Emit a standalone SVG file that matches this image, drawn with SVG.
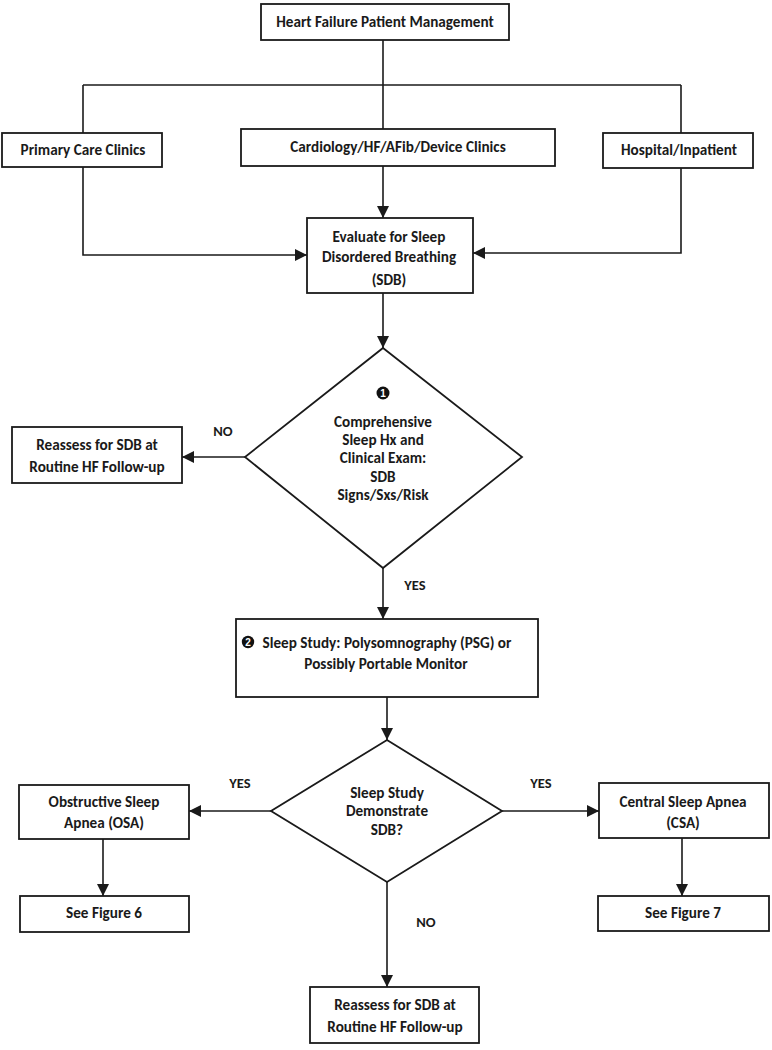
<svg xmlns="http://www.w3.org/2000/svg" width="772" height="1050" viewBox="0 0 772 1050">
<defs>
<style>
.box{fill:#fff;stroke:#1a1a1a;stroke-width:1.8}
.ln{fill:none;stroke:#1a1a1a;stroke-width:1.6}
.t{font-family:Carlito,"Liberation Sans Narrow",Lato,"Liberation Sans",sans-serif;font-weight:bold;font-size:15.2px;fill:#1a1a1a;text-anchor:middle;dominant-baseline:central}
.lbl{font-family:Carlito,"Liberation Sans Narrow",Lato,"Liberation Sans",sans-serif;font-weight:bold;font-size:14.5px;fill:#1a1a1a;text-anchor:middle;dominant-baseline:central}
.num{font-family:"Liberation Sans",Arial,sans-serif;font-weight:bold;font-size:10px;fill:#fff;text-anchor:middle;dominant-baseline:central}
</style>
<marker id="ah" markerUnits="userSpaceOnUse" markerWidth="12" markerHeight="12" viewBox="0 0 10 10" refX="10" refY="5" orient="auto">
<path d="M0,0 L10,5 L0,10 z" fill="#1a1a1a"/>
</marker>
</defs>
<rect width="772" height="1050" fill="#fff"/>

<g id="connectors">
<path class="ln" d="M383,40 V129"/>
<path class="ln" d="M83,85 H681"/>
<path class="ln" d="M83,85 V133"/>
<path class="ln" d="M681,85 V133"/>
<path class="ln" d="M383,166 V218" marker-end="url(#ah)"/>
<path class="ln" d="M83,167 V255 H307" marker-end="url(#ah)"/>
<path class="ln" d="M681,168 V253 H473" marker-end="url(#ah)"/>
<path class="ln" d="M383,293 V348" marker-end="url(#ah)"/>
<path class="ln" d="M245,457 H182" marker-end="url(#ah)"/>
<path class="ln" d="M383,568 V619" marker-end="url(#ah)"/>
<path class="ln" d="M387,697 V740" marker-end="url(#ah)"/>
<path class="ln" d="M271,811 H189" marker-end="url(#ah)"/>
<path class="ln" d="M502,811 H599" marker-end="url(#ah)"/>
<path class="ln" d="M103,839 V896" marker-end="url(#ah)"/>
<path class="ln" d="M682,838 V896" marker-end="url(#ah)"/>
<path class="ln" d="M387,882 V987" marker-end="url(#ah)"/>
<text class="lbl" x="223" y="431">NO</text>
<text class="lbl" x="415" y="585">YES</text>
<text class="lbl" x="240" y="783">YES</text>
<text class="lbl" x="541" y="783">YES</text>
<text class="lbl" x="426" y="922">NO</text>
</g>

<g id="n-hf">
<rect class="box" x="261" y="4" width="248" height="36"/>
<text class="t" x="385" y="22">Heart Failure Patient Management</text>
</g>

<g id="n-primary">
<rect class="box" x="2" y="133" width="160" height="34"/>
<text class="t" x="83" y="150">Primary Care Clinics</text>
</g>

<g id="n-cardio">
<rect class="box" x="241" y="129" width="314" height="37"/>
<text class="t" x="398" y="147">Cardiology/HF/AFib/Device Clinics</text>
</g>

<g id="n-hospital">
<rect class="box" x="603" y="133" width="150" height="35"/>
<text class="t" x="679" y="150">Hospital/Inpatient</text>
</g>

<g id="n-evaluate">
<rect class="box" x="307" y="218" width="166" height="75"/>
<text class="t" x="389" y="237">Evaluate for Sleep</text>
<text class="t" x="389" y="257">Disordered Breathing</text>
<text class="t" x="389" y="280">(SDB)</text>
</g>

<g id="n-diamond1">
<polygon class="box" points="383,348 522,457 383,568 245,457"/>
<circle cx="383" cy="393" r="6.5" fill="#111"/>
<text class="num" x="383" y="393.5">1</text>
<text class="t" x="383" y="422">Comprehensive</text>
<text class="t" x="383" y="440">Sleep Hx and</text>
<text class="t" x="383" y="458">Clinical Exam:</text>
<text class="t" x="383" y="477">SDB</text>
<text class="t" x="383" y="495">Signs/Sxs/Risk</text>
</g>

<g id="n-reassess1">
<rect class="box" x="12" y="427" width="170" height="56"/>
<text class="t" x="97" y="445">Reassess for SDB at</text>
<text class="t" x="97" y="467">Routine HF Follow-up</text>
</g>

<g id="n-sleepstudy">
<rect class="box" x="236" y="619" width="302" height="78"/>
<circle cx="248" cy="642" r="6.2" fill="#111"/>
<text class="num" x="248" y="642.5">2</text>
<text class="t" x="387" y="643">Sleep Study: Polysomnography (PSG) or</text>
<text class="t" x="386" y="664">Possibly Portable Monitor</text>
</g>

<g id="n-diamond2">
<polygon class="box" points="387,740 502,811 387,882 271,811"/>
<text class="t" x="387" y="793">Sleep Study</text>
<text class="t" x="387" y="811">Demonstrate</text>
<text class="t" x="387" y="830">SDB?</text>
</g>

<g id="n-osa">
<rect class="box" x="19" y="785" width="170" height="54"/>
<text class="t" x="104" y="802">Obstructive Sleep</text>
<text class="t" x="104" y="823">Apnea (OSA)</text>
</g>

<g id="n-csa">
<rect class="box" x="599" y="783" width="170" height="55"/>
<text class="t" x="683" y="802">Central Sleep Apnea</text>
<text class="t" x="683" y="823">(CSA)</text>
</g>

<g id="n-fig6">
<rect class="box" x="20" y="896" width="169" height="36"/>
<text class="t" x="104" y="913">See Figure 6</text>
</g>

<g id="n-fig7">
<rect class="box" x="598" y="896" width="171" height="35"/>
<text class="t" x="683" y="913">See Figure 7</text>
</g>

<g id="n-reassess2">
<rect class="box" x="310" y="987" width="169" height="56"/>
<text class="t" x="395" y="1005">Reassess for SDB at</text>
<text class="t" x="395" y="1027">Routine HF Follow-up</text>
</g>
</svg>
